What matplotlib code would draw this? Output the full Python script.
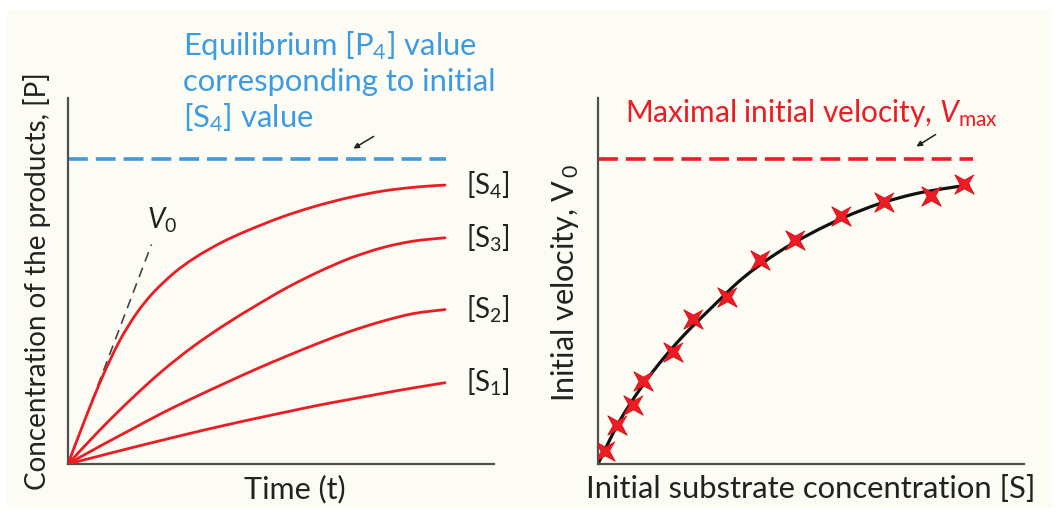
import matplotlib

matplotlib.use("Agg")
import numpy as np
import matplotlib.pyplot as plt
from matplotlib.patches import FancyArrowPatch, PathPatch, Rectangle
from matplotlib.path import Path

# --- data (arbitrary units) ----------------------------------------------------
# left panel: product formation vs time for four substrate concentrations
T_S4 = [0, 4, 8, 12, 16, 20, 25, 30, 36, 42, 50, 58, 66, 74, 82, 88.5]
P_S4 = [0, 12.2, 23.6, 33.4, 41.0, 46.8, 52.3, 56.5, 60.5, 63.7, 67.4, 70.4, 72.8, 74.6, 75.7, 76.2]

T_S = [0, 7.4, 14.8, 22.1, 29.5, 36.9, 44.3, 51.6, 59.0, 66.4, 73.8, 81.1, 88.5]
P_S3 = [0, 9.2, 17.7, 25.4, 32.2, 38.1, 43.4, 48.3, 52.6, 56.3, 59.1, 60.9, 61.8]
P_S2 = [0, 4.8, 9.4, 13.9, 18.1, 22.1, 26.0, 29.6, 33.1, 36.3, 39.0, 41.1, 42.2]
P_S1 = [0, 2.2, 4.4, 6.5, 8.6, 10.6, 12.5, 14.3, 16.1, 17.7, 19.3, 20.8, 22.2]

CURVE_LABELS = ["[S$_4$]", "[S$_3$]", "[S$_2$]", "[S$_1$]"]

V0_T = [0, 19.6]
V0_P = [0, 60.0]
P_EQ = 83.3          # equilibrium [P4]
T_END = 88.7

# right panel: initial velocity vs substrate concentration
S_MEAS = [1.6, 4.5, 8.3, 10.6, 17.7, 22.4, 30.2, 38.0, 46.2, 57.0, 67.1, 78.1, 85.9]
V_MEAS = [3.6, 10.7, 16.2, 22.8, 30.5, 39.6, 45.7, 55.7, 61.1, 67.7, 71.6, 73.2, 76.4]

S_FIT = [0, 2.0, 5.0, 9.0, 14.0, 20.0, 27.0, 34.0, 42.0, 50.0, 58.0, 66.0, 74.0, 81.0, 86.9]
V_FIT = [0, 4.8, 11.6, 19.0, 26.9, 35.0, 43.1, 50.8, 57.6, 63.0, 67.5, 71.1, 73.7, 75.2, 76.2]

V_MAX = 83.3
S_END = 88.0

# --- style ----------------------------------------------------------------------
BG = "#FDFCF4"
RED = "#EC1C24"
BLUE = "#3D9BE3"
AXIS = "#505050"
INK = "#222222"

plt.rcParams["font.family"] = ["Lato", "DejaVu Sans"]
plt.rcParams["mathtext.fontset"] = "custom"
plt.rcParams["mathtext.rm"] = "Lato"
plt.rcParams["mathtext.it"] = "Lato:italic"

W, H = 1059, 516
fig = plt.figure(figsize=(W / 100, H / 100), dpi=100, facecolor="white")
fig.add_artist(Rectangle((7 / W, 1 - 508 / H), (1052 - 7) / W, (508 - 10) / H,
                         transform=fig.transFigure, facecolor=BG, edgecolor="none", zorder=0))


def px(x, y):
    return x / W, 1 - y / H


def make_axes(x0):
    ax = fig.add_axes([x0 / W, 1 - 464 / H, 426 / W, 366 / H])
    ax.set_xlim(0, 100)
    ax.set_ylim(0, 100)
    ax.patch.set_alpha(0)
    for s in ("top", "right"):
        ax.spines[s].set_visible(False)
    for s in ("left", "bottom"):
        ax.spines[s].set_color(AXIS)
        ax.spines[s].set_linewidth(1.6)
    ax.set_xticks([])
    ax.set_yticks([])
    return ax


def smooth_line(ax, xs, ys, **kw):
    # cubic bezier path through the read points (Catmull-Rom tangents)
    p = np.column_stack([xs, ys]).astype(float)
    ext = np.vstack([p[0], p, p[-1]])
    verts, codes = [p[0]], [Path.MOVETO]
    for i in range(len(p) - 1):
        a, b, c, d = ext[i], ext[i + 1], ext[i + 2], ext[i + 3]
        verts += [b + (c - a) / 6, c - (d - b) / 6, c]
        codes += [Path.CURVE4] * 3
    ax.add_patch(PathPatch(Path(verts, codes), fill=False, capstyle="round", **kw))


# thin-armed 4-point star, like the hand-drawn crosses
ang = np.deg2rad(np.arange(8) * 45 + 45)
rad = np.where(np.arange(8) % 2 == 0, 1.0, 0.32)
STAR = Path(np.column_stack([rad * np.cos(ang), rad * np.sin(ang)]))

dash = (0, (5.5, 2.2))

# --- left panel -----------------------------------------------------------------
ax1 = make_axes(68)
ax1.plot(V0_T, V0_P, color="#444444", lw=1.2, ls=(0, (6, 4)), zorder=2)
smooth_line(ax1, T_S4, P_S4, edgecolor=RED, lw=2.0, zorder=3)
for p in (P_S3, P_S2, P_S1):
    smooth_line(ax1, T_S, p, edgecolor=RED, lw=2.0, zorder=3)
ax1.plot([0, T_END], [P_EQ, P_EQ], color=BLUE, lw=2.6, ls=dash)

ends = [P_S4[-1], P_S3[-1], P_S2[-1], P_S1[-1]]
for lab, pe in zip(CURVE_LABELS, ends):
    ax1.text(93.5, pe, lab, fontsize=20, color=INK, ha="left", va="center")
ax1.text(22.0, 66.5, "$V_0$", fontsize=20, color=INK, ha="center", va="center")

ax1.set_xlabel("Time (t)", fontsize=22, color=INK)
ax1.xaxis.set_label_coords(227 / 426, -25 / 366)
ax1.xaxis.label.set_va("center")
ax1.set_ylabel("Concentration of the products, [P]", fontsize=20, color=INK)
ax1.yaxis.set_label_coords(-31 / 426, 0.5)
ax1.yaxis.label.set_va("center")

blue_lines = ["Equilibrium [P$_4$] value", "corresponding to initial", "[S$_4$] value"]
for txt, yy in zip(blue_lines, (45, 82, 118)):
    fig.text(*px(183, yy), txt, fontsize=22.3, color=BLUE, ha="left", va="center")

fig.add_artist(FancyArrowPatch(px(376, 135), px(351, 150), transform=fig.transFigure,
                               arrowstyle="-|>", mutation_scale=8, lw=1.1, color=INK))

# --- right panel ----------------------------------------------------------------
ax2 = make_axes(598)
smooth_line(ax2, S_FIT, V_FIT, edgecolor="#111111", lw=2.3, zorder=2)
ax2.plot(S_MEAS, V_MEAS, ls="none", marker=STAR, ms=14, color=RED,
         mec="#D01018", mew=0.6, zorder=3)
ax2.plot([0, S_END], [V_MAX, V_MAX], color=RED, lw=2.6, ls=dash)

ax2.set_xlabel("Initial substrate concentration [S]", fontsize=22.3, color=INK)
ax2.xaxis.set_label_coords(213 / 426, -25 / 366)
ax2.xaxis.label.set_va("center")
ax2.set_ylabel("Initial velocity, V$_{\\,0}$", fontsize=22, color=INK)
ax2.yaxis.set_label_coords(-33 / 426, 0.495)
ax2.yaxis.label.set_va("center")

fig.text(*px(625, 113), "Maximal initial velocity, $V_{\\mathrm{max}}$", fontsize=21.5,
         color=RED, ha="left", va="center")
fig.add_artist(FancyArrowPatch(px(938, 133), px(914, 148), transform=fig.transFigure,
                               arrowstyle="-|>", mutation_scale=8, lw=1.1, color=INK))

fig.savefig("out.png", dpi=100, facecolor="white")
